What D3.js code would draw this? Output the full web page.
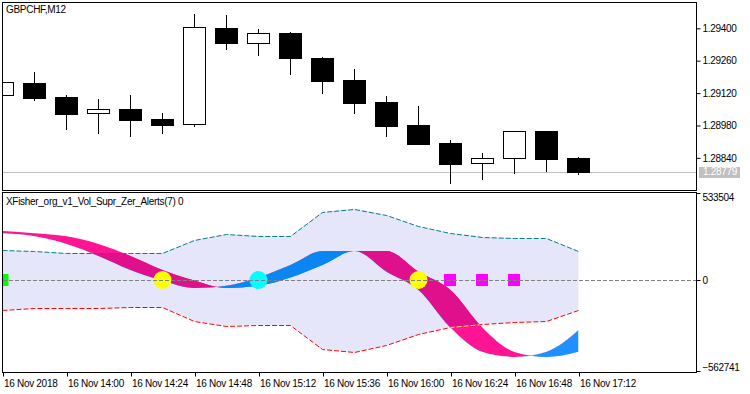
<!DOCTYPE html>
<html>
<head>
<meta charset="utf-8">
<script src="https://cdn.jsdelivr.net/npm/d3@7"></script>
<style>
  body { margin: 0; background: #fff; }
  svg { display: block; font-family: "Liberation Sans", Arial, sans-serif; font-size: 10px; letter-spacing: -0.3px; }
</style>
</head>
<body>
<div id="chart"></div>
<script>
// bars: GBPCHF M12, 16 Nov 2018
const barTimes = ['13:36', '13:48', '14:00', '14:12', '14:24', '14:36', '14:48', '15:00', '15:12', '15:24',
  '15:36', '15:48', '16:00', '16:12', '16:24', '16:36', '16:48', '17:00', '17:12'];
const tickBars = [0, 2, 4, 6, 8, 10, 12, 14, 16, 18];
const tickLabels = ['16 Nov 2018', '16 Nov 14:00', '16 Nov 14:24', '16 Nov 14:48', '16 Nov 15:12',
  '16 Nov 15:36', '16 Nov 16:00', '16 Nov 16:24', '16 Nov 16:48', '16 Nov 17:12'];

const open = [1.29110, 1.29164, 1.29103, 1.29035, 1.29051, 1.29008, 1.28985, 1.29401, 1.29338, 1.29378,
  1.29272, 1.29177, 1.29082, 1.28982, 1.28904, 1.28817, 1.28838, 1.28956, 1.28840];
const high = [1.29168, 1.29212, 1.29112, 1.29095, 1.29112, 1.29034, 1.29462, 1.29457, 1.29397, 1.29383,
  1.29276, 1.29224, 1.29107, 1.29064, 1.28917, 1.28861, 1.28956, 1.28956, 1.28845];
const low = [1.29110, 1.29091, 1.28966, 1.28949, 1.28936, 1.28949, 1.28979, 1.29312, 1.29286, 1.29204,
  1.29122, 1.29035, 1.28936, 1.28901, 1.28733, 1.28750, 1.28776, 1.28785, 1.28769];
const close = [1.29168, 1.29100, 1.29031, 1.29051, 1.29005, 1.28983, 1.29406, 1.29338, 1.29378, 1.29273,
  1.29174, 1.29079, 1.28979, 1.28901, 1.28815, 1.28840, 1.28956, 1.28837, 1.28779];

const priceTicks = [1.28840, 1.28980, 1.29120, 1.29260, 1.29400];
const lastPrice = 1.28779;

// indicator pane
const fisher = [301300, 281900, 232200, 154800, 64500, -3200, -51600, -37400, 16100, 96100,
  187100, 187100, 53500, -64500, -307700, -464500, -496700, -462500, -322600];
const signal = [316100, 301300, 281900, 232200, 154800, 64500, -3200, -51600, -37400, 16100,
  96100, 187100, 187100, 53500, -64500, -307700, -464500, -496700, -462500];
const upperLevel = [191600, 183900, 174200, 174200, 174200, 174200, 258000, 294800, 285800, 285800,
  438700, 461200, 419300, 345100, 301300, 279300, 269000, 267700, 187100];
const lowerLevel = [-193500, -182600, -180600, -180600, -177400, -176100, -264500, -296700, -290300, -290300,
  -445100, -467700, -419300, -351600, -301300, -283800, -272900, -267700, -193500];
const indTicks = [533504, 0, -562741];

const greenBars = [0];
const yellowBars = [5, 13];
const cyanBars = [8];
const magentaBars = [14, 15, 16];

const width = 750;
const height = 394;
const paneLeft = 2.5;
const paneRight = 696.5;
const pane1 = { top: 2.5, bottom: 190.5 };
const pane2 = { top: 192.5, bottom: 372.5 };

const idx = d3.range(barTimes.length);

const x = d3.scaleLinear().domain([0, 18]).range([2.5, 578.5]);
const yP = d3.scaleLinear().domain([1.2884, 1.2940]).range([157.9, 28.3]);
const yI = d3.scaleLinear().domain([-562741, 533504]).range([367.2, 197.3]);

const svg = d3.select('#chart').append('svg')
  .attr('width', width)
  .attr('height', height);

const defs = svg.append('defs');
defs.append('clipPath').attr('id', 'clip1').append('rect')
  .attr('x', 3).attr('y', 3).attr('width', paneRight - 3).attr('height', pane1.bottom - 3);
defs.append('clipPath').attr('id', 'clip2').append('rect')
  .attr('x', 3).attr('y', pane2.top + 0.5).attr('width', paneRight - 3).attr('height', pane2.bottom - pane2.top - 1);

// ---------- price pane ----------
const g1 = svg.append('g').attr('clip-path', 'url(#clip1)');

g1.append('line')
  .attr('x1', 0).attr('x2', paneRight)
  .attr('y1', Math.round(yP(lastPrice)) + 0.5).attr('y2', Math.round(yP(lastPrice)) + 0.5)
  .attr('stroke', '#c0c0c0');

const cx = i => Math.floor(x(i));

g1.selectAll('.wick')
  .data(idx)
  .join('line')
  .attr('class', 'wick')
  .attr('x1', i => cx(i) + 0.5)
  .attr('x2', i => cx(i) + 0.5)
  .attr('y1', i => Math.round(yP(high[i])))
  .attr('y2', i => Math.round(yP(low[i])) + 1)
  .attr('stroke', '#000');

g1.selectAll('.body')
  .data(idx)
  .join('rect')
  .attr('class', 'body')
  .each(function (i) {
    const t = Math.round(yP(Math.max(open[i], close[i])));
    const b = Math.round(yP(Math.min(open[i], close[i])));
    const bull = close[i] > open[i];
    const r = d3.select(this);
    if (bull) {
      r.attr('x', cx(i) - 11 + 0.5).attr('y', t + 0.5)
        .attr('width', 22).attr('height', Math.max(b - t, 1))
        .attr('fill', '#fff').attr('stroke', '#000');
    } else {
      r.attr('x', cx(i) - 11).attr('y', t)
        .attr('width', 23).attr('height', Math.max(b - t + 1, 1))
        .attr('fill', '#000');
    }
  });

svg.append('text')
  .attr('x', 6).attr('y', 13)
  .text('GBPCHF,M12');

// price axis
const axisP = svg.append('g')
  .attr('transform', `translate(${paneRight},0)`)
  .call(d3.axisRight(yP).tickValues(priceTicks).tickSize(4).tickPadding(2).tickFormat(d3.format('.5f')));
axisP.select('.domain').remove();
axisP.selectAll('text').attr('font-family', null).attr('font-size', null).attr('fill', '#000');

svg.append('rect')
  .attr('x', 699).attr('y', Math.round(yP(lastPrice)) - 5)
  .attr('width', 41).attr('height', 11)
  .attr('fill', '#c0c0c0');
svg.append('text')
  .attr('x', 703).attr('y', yP(lastPrice))
  .attr('dy', '0.34em')
  .attr('fill', '#fff')
  .text(d3.format('.5f')(lastPrice));

// ---------- indicator pane ----------
const g2 = svg.append('g').attr('clip-path', 'url(#clip2)');

const levelArea = d3.area()
  .x(i => x(i))
  .y0(i => yI(upperLevel[i]))
  .y1(i => yI(lowerLevel[i]));
const smooth = d3.curveMonotoneX;
const bandArea = d3.area()
  .curve(smooth)
  .x(i => x(i))
  .y0(i => yI(fisher[i]))
  .y1(i => yI(signal[i]));
const aboveFisher = d3.area()
  .curve(smooth)
  .x(i => x(i))
  .y0(pane2.top - 20)
  .y1(i => yI(fisher[i]));
const belowFisher = d3.area()
  .curve(smooth)
  .x(i => x(i))
  .y0(i => yI(fisher[i]))
  .y1(pane2.bottom + 20);

defs.append('clipPath').attr('id', 'clipLevels').append('path').attr('d', levelArea(idx));
defs.append('clipPath').attr('id', 'clipFall').append('path').attr('d', aboveFisher(idx));
defs.append('clipPath').attr('id', 'clipRise').append('path').attr('d', belowFisher(idx));
defs.append('clipPath').attr('id', 'clipBand').append('path').attr('d', bandArea(idx));

g2.append('path')
  .attr('d', levelArea(idx))
  .attr('fill', '#e6e6fa');

// fisher band, plain and where it overlaps the level cloud
g2.append('path').attr('d', bandArea(idx)).attr('clip-path', 'url(#clipFall)').attr('fill', '#ff1493');
g2.append('path').attr('d', bandArea(idx)).attr('clip-path', 'url(#clipRise)').attr('fill', '#1e90ff');
const inner = g2.append('g').attr('clip-path', 'url(#clipLevels)');
inner.append('path').attr('d', bandArea(idx)).attr('clip-path', 'url(#clipFall)').attr('fill', '#e0108c');
inner.append('path').attr('d', bandArea(idx)).attr('clip-path', 'url(#clipRise)').attr('fill', '#0a86f2');

const upperLine = d3.line().x(i => x(i)).y(i => Math.round(yI(upperLevel[i])) + 0.5);
const lowerLine = d3.line().x(i => x(i)).y(i => Math.round(yI(lowerLevel[i])) + 0.5);

g2.append('path')
  .attr('d', upperLine(idx))
  .attr('fill', 'none')
  .attr('stroke', '#008080')
  .attr('stroke-dasharray', '5,2');
g2.append('path')
  .attr('d', lowerLine(idx))
  .attr('fill', 'none')
  .attr('stroke', '#ff0000')
  .attr('stroke-dasharray', '5,2');
g2.append('g').attr('clip-path', 'url(#clipBand)')
  .append('path')
  .attr('d', lowerLine(idx))
  .attr('fill', 'none')
  .attr('stroke', '#ffe98a')
  .attr('stroke-dasharray', '5,2');

// alert markers on the zero line
const y0 = Math.round(yI(0));
g2.selectAll('.green')
  .data(greenBars)
  .join('rect')
  .attr('x', i => x(i) - 6).attr('y', y0 - 6)
  .attr('width', 12).attr('height', 12)
  .attr('fill', '#00ff00');
g2.selectAll('.magenta')
  .data(magentaBars)
  .join('rect')
  .attr('x', i => cx(i) - 6).attr('y', y0 - 6)
  .attr('width', 12).attr('height', 12)
  .attr('fill', '#ff00ff');
g2.selectAll('.yellow')
  .data(yellowBars)
  .join('circle')
  .attr('cx', i => cx(i) + 0.5).attr('cy', y0)
  .attr('r', 9)
  .attr('fill', '#ffff00');
g2.selectAll('.cyan')
  .data(cyanBars)
  .join('circle')
  .attr('cx', i => cx(i) + 0.5).attr('cy', y0)
  .attr('r', 9)
  .attr('fill', '#00ffff');

g2.append('line')
  .attr('x1', 3).attr('x2', paneRight)
  .attr('y1', y0 + 0.5).attr('y2', y0 + 0.5)
  .attr('stroke', '#808080')
  .attr('stroke-dasharray', '4,2');

svg.append('text')
  .attr('x', 6).attr('y', 205)
  .text('XFisher_org_v1_Vol_Supr_Zer_Alerts(7) 0');

// indicator scale labels
const axisI = svg.append('g')
  .attr('transform', `translate(${paneRight},0)`)
  .call(d3.axisRight(yI).tickValues(indTicks).tickSize(0).tickPadding(6).tickFormat(d3.format('d')));
axisI.select('.domain').remove();
axisI.selectAll('text').attr('font-family', null).attr('font-size', null).attr('fill', '#000');
svg.append('line').attr('x1', paneRight).attr('x2', paneRight + 4)
  .attr('y1', y0 + 0.5).attr('y2', y0 + 0.5).attr('stroke', '#000');
svg.append('line').attr('x1', paneRight).attr('x2', paneRight + 4)
  .attr('y1', pane2.top + 1).attr('y2', pane2.top + 1).attr('stroke', '#000');
svg.append('line').attr('x1', paneRight).attr('x2', paneRight + 4)
  .attr('y1', pane2.bottom - 1).attr('y2', pane2.bottom - 1).attr('stroke', '#000');

// time axis
const axisT = svg.append('g')
  .attr('transform', `translate(0,${pane2.bottom})`)
  .call(d3.axisBottom(x).tickValues(tickBars).tickSize(4).tickFormat((d, i) => tickLabels[i]));
axisT.select('.domain').remove();
axisT.selectAll('.tick line').attr('transform', 'translate(0.5,0)');
axisT.selectAll('text')
  .attr('font-family', null).attr('font-size', null)
  .attr('fill', '#000')
  .attr('text-anchor', 'start')
  .attr('x', 1);

// pane frames
[pane1, pane2].forEach(p => {
  svg.append('rect')
    .attr('x', paneLeft).attr('y', p.top)
    .attr('width', paneRight - paneLeft).attr('height', p.bottom - p.top)
    .attr('fill', 'none')
    .attr('stroke', '#000');
});
</script>
</body>
</html>
